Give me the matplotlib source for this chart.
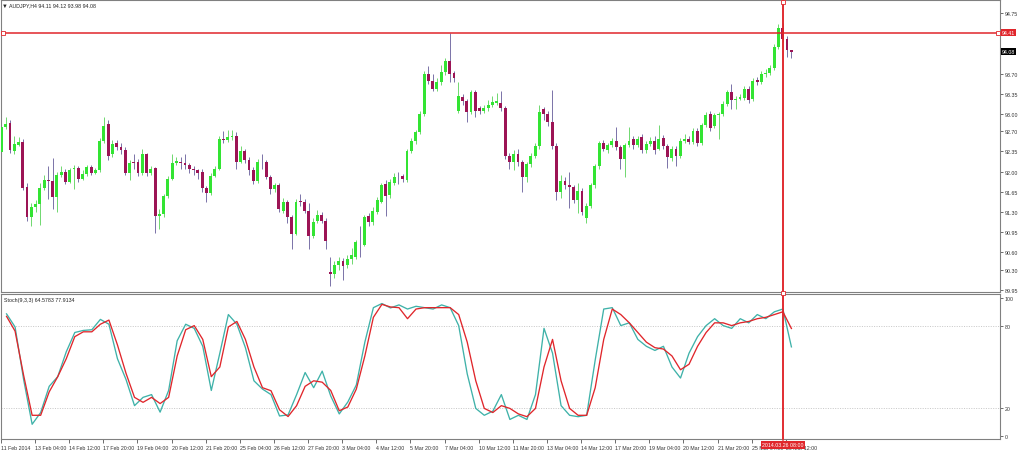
import numpy as np
import matplotlib
matplotlib.use("Agg")
import matplotlib.pyplot as plt
from matplotlib.lines import Line2D

plt.rcParams['font.family'] = ['Liberation Sans', 'DejaVu Sans']

# AUDJPY H4 candles, one row per bar (open, high, low, close)
opens = [
    92.34, 92.78, 92.85, 92.36, 92.47, 92.52, 91.74, 91.21, 91.38, 91.43,
    91.72, 91.86, 91.84, 91.56, 91.94, 92.00, 91.82, 92.04, 92.06, 91.88,
    91.96, 92.08, 91.98, 92.03, 92.53, 92.82, 92.30, 92.50, 92.43, 92.38,
    91.98, 92.16, 92.16, 91.97, 92.30, 91.97, 92.06, 91.23, 91.27, 91.58,
    91.87, 92.15, 92.17, 92.15, 92.11, 92.05, 92.02, 92.00, 91.72, 91.63,
    91.92, 92.05, 92.57, 92.55, 92.60, 92.62, 92.17, 92.36, 92.20, 92.02,
    91.84, 92.17, 92.16, 91.91, 91.70, 91.76, 91.32, 91.47, 91.22, 90.92,
    91.48, 91.47, 91.32, 90.89, 91.15, 91.24, 91.15, 90.25, 90.23, 90.37,
    90.45, 90.38, 90.48, 90.52, 90.78, 90.72, 91.23, 91.12, 91.30, 91.48,
    91.78, 91.60, 91.80, 91.91, 91.92, 91.86, 92.36, 92.53, 92.69, 93.00,
    93.70, 93.58, 93.44, 93.55, 93.73, 93.92, 93.72, 93.06, 93.30, 93.22,
    93.04, 93.38, 93.10, 93.05, 93.10, 93.16, 93.20, 93.20, 93.10, 92.28,
    92.17, 92.31, 92.17, 91.91, 92.13, 92.28, 92.45, 93.08, 93.00, 92.86,
    92.45, 91.64, 91.84, 91.76, 91.73, 91.50, 91.67, 91.20, 91.40, 91.76,
    92.10, 92.49, 92.37, 92.46, 92.54, 92.42, 92.22, 92.46, 92.56, 92.46,
    92.60, 92.37, 92.48, 92.54, 92.40, 92.58, 92.44, 92.23, 92.39, 92.28,
    92.54, 92.57, 92.52, 92.70, 92.50, 92.81, 93.00, 92.80, 92.99, 93.00,
    93.18, 93.38, 93.24, 93.27, 93.28, 93.44, 93.26, 93.60, 93.55, 93.70,
    93.71, 93.80, 94.17, 94.50, 94.30, 94.11,
]
highs = [
    92.92, 92.95, 92.90, 92.62, 92.60, 92.56, 91.80, 91.45, 91.50, 91.80,
    91.95, 92.10, 92.24, 92.00, 92.10, 92.05, 92.06, 92.12, 92.10, 92.02,
    92.12, 92.12, 92.06, 92.58, 92.95, 92.90, 92.55, 92.55, 92.50, 92.42,
    92.20, 92.30, 92.22, 92.40, 92.32, 92.10, 92.08, 91.35, 91.62, 91.92,
    92.30, 92.25, 92.25, 92.30, 92.15, 92.10, 92.05, 92.05, 91.75, 91.98,
    92.10, 92.62, 92.70, 92.72, 92.72, 92.68, 92.45, 92.40, 92.25, 92.08,
    92.22, 92.31, 92.20, 91.95, 91.80, 91.80, 91.55, 91.50, 91.25, 91.53,
    91.62, 91.52, 91.45, 91.20, 91.33, 91.30, 91.20, 90.52, 90.45, 90.52,
    90.50, 90.55, 90.68, 90.82, 91.06, 91.25, 91.28, 91.38, 91.56, 91.80,
    91.85, 91.88, 91.97, 92.00, 91.96, 92.40, 92.58, 92.73, 93.05, 93.74,
    93.84, 93.70, 93.62, 93.86, 93.98, 94.41, 93.75, 93.55, 93.35, 93.27,
    93.42, 93.42, 93.14, 93.16, 93.25, 93.32, 93.37, 93.40, 93.14, 92.32,
    92.38, 92.40, 92.20, 92.17, 92.32, 92.50, 93.15, 93.12, 93.05, 93.41,
    92.50, 91.95, 91.90, 91.99, 91.76, 91.80, 91.72, 91.45, 91.80, 92.14,
    92.53, 92.55, 92.50, 92.58, 92.77, 92.46, 92.50, 92.77, 92.62, 92.62,
    92.66, 92.54, 92.60, 92.62, 92.81, 92.64, 92.48, 92.45, 92.44, 92.58,
    92.65, 92.62, 92.75, 92.75, 92.85, 93.04, 93.06, 93.02, 93.04, 93.22,
    93.42, 93.53, 93.32, 93.35, 93.48, 93.48, 93.62, 93.65, 93.75, 93.78,
    93.85, 94.22, 94.56, 94.58, 94.35, 94.12,
]
lows = [
    92.22, 92.74, 92.33, 92.30, 92.44, 91.68, 91.15, 91.05, 91.30, 91.08,
    91.68, 91.53, 91.35, 91.30, 91.90, 91.78, 91.80, 91.70, 91.82, 91.86,
    91.93, 91.95, 91.96, 92.00, 92.50, 92.20, 92.26, 92.38, 92.30, 91.95,
    91.85, 92.05, 91.92, 91.95, 91.93, 91.95, 90.93, 91.00, 91.22, 91.55,
    91.85, 92.12, 92.05, 92.05, 91.98, 91.95, 91.88, 91.65, 91.48, 91.60,
    91.90, 92.02, 92.50, 92.52, 92.55, 92.05, 92.15, 92.15, 91.95, 91.78,
    91.80, 92.05, 91.88, 91.62, 91.65, 91.30, 91.28, 91.10, 90.66, 90.90,
    91.40, 91.28, 90.65, 90.85, 91.10, 91.10, 90.65, 90.02, 90.15, 90.30,
    90.12, 90.33, 90.40, 90.48, 90.52, 90.70, 91.05, 91.08, 91.26, 91.45,
    91.23, 91.55, 91.76, 91.78, 91.82, 91.82, 92.32, 92.48, 92.65, 92.97,
    93.52, 93.40, 93.40, 93.50, 93.68, 93.56, 93.55, 93.02, 93.15, 92.86,
    93.00, 92.95, 93.00, 93.02, 93.06, 93.12, 93.15, 93.05, 92.22, 92.05,
    92.02, 92.10, 91.65, 91.82, 92.08, 92.24, 92.40, 92.90, 92.80, 92.40,
    91.50, 91.55, 91.70, 91.36, 91.45, 91.28, 91.25, 91.10, 91.36, 91.72,
    92.05, 92.36, 92.33, 92.42, 92.38, 92.05, 91.90, 92.42, 92.40, 92.42,
    92.32, 92.33, 92.44, 92.30, 92.38, 92.40, 92.07, 92.18, 92.10, 92.24,
    92.50, 92.48, 92.48, 92.45, 92.46, 92.77, 92.70, 92.76, 92.57, 92.96,
    93.14, 93.09, 93.09, 93.24, 93.24, 93.20, 93.22, 93.50, 93.52, 93.64,
    93.67, 93.76, 94.13, 94.25, 93.99, 93.98,
]
closes = [
    92.78, 92.83, 92.38, 92.48, 92.52, 91.72, 91.21, 91.38, 91.43, 91.72,
    91.86, 91.84, 91.56, 91.94, 92.00, 91.82, 92.02, 92.06, 91.88, 91.96,
    92.08, 91.98, 92.03, 92.53, 92.79, 92.28, 92.48, 92.43, 92.38, 91.98,
    92.15, 92.15, 91.98, 92.30, 91.97, 92.05, 91.23, 91.27, 91.58, 91.87,
    92.15, 92.18, 92.15, 92.11, 92.05, 92.02, 91.97, 91.72, 91.63, 91.92,
    92.05, 92.57, 92.55, 92.60, 92.62, 92.17, 92.36, 92.20, 92.02, 91.84,
    92.17, 92.16, 91.91, 91.70, 91.76, 91.35, 91.47, 91.22, 90.92, 91.48,
    91.47, 91.32, 90.89, 91.13, 91.24, 91.15, 90.80, 90.23, 90.37, 90.45,
    90.36, 90.48, 90.55, 90.78, 90.77, 91.21, 91.12, 91.32, 91.50, 91.76,
    91.58, 91.82, 91.91, 91.90, 91.88, 92.36, 92.53, 92.69, 93.00, 93.70,
    93.58, 93.44, 93.56, 93.73, 93.92, 93.70, 93.63, 93.31, 93.22, 93.04,
    93.38, 93.06, 93.05, 93.10, 93.16, 93.21, 93.22, 93.10, 92.28, 92.17,
    92.31, 92.17, 91.91, 92.13, 92.28, 92.45, 93.04, 93.00, 92.86, 92.45,
    91.64, 91.84, 91.76, 91.73, 91.50, 91.67, 91.30, 91.40, 91.76, 92.10,
    92.49, 92.40, 92.46, 92.54, 92.42, 92.22, 92.46, 92.54, 92.46, 92.57,
    92.37, 92.48, 92.54, 92.37, 92.57, 92.44, 92.25, 92.39, 92.28, 92.54,
    92.57, 92.52, 92.70, 92.50, 92.81, 92.99, 92.75, 92.99, 93.00, 93.18,
    93.38, 93.24, 93.27, 93.30, 93.44, 93.24, 93.58, 93.55, 93.70, 93.71,
    93.80, 94.17, 94.50, 94.30, 94.11, 94.08,
]

# Stochastic(9,3,3), read on every second bar (bars 1, 3, ..., 185)
stoch_main = [
    88.5, 79, 41, 8.5, 17, 36, 43, 61, 75, 76.5,
    77, 84.5, 81, 56, 41, 22, 28, 30, 17.3, 33,
    69, 81, 78, 65, 33, 60, 88, 81, 64, 40,
    34, 30, 14.5, 15.3, 30, 46, 35, 47, 29, 16,
    24.6, 37, 68, 93, 96, 92.8, 95,
    92, 94, 93, 92, 95, 93, 80, 45, 20, 15,
    18, 30, 12, 15, 12, 30, 78, 60, 22, 15,
    14, 15, 55, 92, 93, 80, 82, 70, 65, 62,
    65, 50, 42, 60, 72, 80, 85, 80, 78, 85,
    82, 88, 85, 90, 92, 64.58,
]
stoch_signal = [
    86.7, 76, 44, 15, 15, 32, 43, 56, 72, 75.5,
    75.5, 81, 84, 66, 45.5, 28, 24.4, 28, 23.5, 28,
    58, 77, 80, 70, 43, 50, 79, 83, 70, 50,
    35, 32.8, 19, 14.1, 22, 36, 40, 39, 33, 18.3,
    21, 34, 58, 86, 95.4, 93.5, 93,
    85, 92, 93, 93, 93, 93, 88, 68, 40, 20,
    17, 22, 20, 16, 14, 20, 50, 70, 40, 20,
    15, 15, 35, 70, 92, 88, 82, 75, 68, 64,
    63, 58, 48, 52, 65, 75, 82, 82, 80, 82,
    83, 85, 86, 88, 90, 77.91,
]

time_labels = [
    "11 Feb 2014", "13 Feb 04:00", "14 Feb 12:00", "17 Feb 20:00", "19 Feb 04:00",
    "20 Feb 12:00", "21 Feb 20:00", "25 Feb 04:00", "26 Feb 12:00", "27 Feb 20:00",
    "3 Mar 04:00", "4 Mar 12:00", "5 Mar 20:00", "7 Mar 04:00", "10 Mar 12:00",
    "11 Mar 20:00", "13 Mar 04:00", "14 Mar 12:00", "17 Mar 20:00", "19 Mar 04:00",
    "20 Mar 12:00", "21 Mar 20:00", "25 Mar 04:00", "26 Mar 12:00",
]
price_ticks = [94.75, 93.70, 93.35, 93.00, 92.70, 92.35, 92.00, 91.65,
               91.30, 90.95, 90.60, 90.30, 89.95]
stoch_ticks = [100, 80, 20, 0]

line_price = 94.41
cursor_bar = 183
cursor_label = "2014.03.26 08:00"
header = "AUDJPY,H4 94.11 94.12 93.98 94.08"
stoch_header = "Stoch(9,3,3) 64.5783 77.9134"

W, H = 1024, 452
fig = plt.figure(figsize=(W / 100, H / 100), dpi=100, facecolor='white')


def px_axes(x0, y0, x1, y1):
    return fig.add_axes([x0 / W, 1 - y1 / H, (x1 - x0) / W, (y1 - y0) / H])


GREEN = '#33e433'
MAROON = '#9c1455'
RED = '#e0262b'
TEAL = '#3fb2a9'
GRID = '#b4b4b4'
FRAME = '#808080'
FS = 3.8

ax = px_axes(1, 1, 1000, 293)
ax2 = px_axes(1, 295, 1000, 440)

o = np.array(opens)
hi = np.array(highs)
lo = np.array(lows)
c = np.array(closes)
bars = np.arange(len(c))
up = c >= o

wick_cols = np.where(up, '#6fd86f', '#7a72a8')
ax.vlines(bars, lo, hi, colors=wick_cols, lw=0.7, zorder=2)
ax.bar(bars, np.maximum(np.abs(c - o), 0.012), bottom=np.minimum(o, c), width=0.68,
       color=np.where(up, GREEN, MAROON), lw=0, zorder=3)

xlim = (-0.1, 233.9)
ax.set_xlim(*xlim)
ax.set_ylim(94.998 - 293 * 0.017366, 94.998 - 1 * 0.017366)

ax.axhline(line_price, color=RED, lw=1.1, zorder=4)
ax.plot([0.4, 233.5], [line_price, line_price], ls='none', marker='s', ms=2.2,
        mfc='white', mec=RED, mew=0.6, zorder=5, clip_on=False)

ax.yaxis.tick_right()
ax.set_yticks(price_ticks)
ax.set_yticklabels([f"{v:.2f}" for v in price_ticks])
ax.tick_params(axis='y', length=2, width=0.5, pad=1.5, labelsize=FS, colors='#333333')
ax.set_xticks([])

# stochastic panel
sbars = np.arange(1, len(c) + 1, 2)
ax2.plot(sbars, stoch_main, color=TEAL, lw=0.95, zorder=3)
ax2.plot(sbars, stoch_signal, color=RED, lw=0.95, zorder=4)
for lvl in (80, 20):
    ax2.axhline(lvl, color=GRID, lw=0.5, ls=(0, (1.5, 2)), zorder=1)
ax2.set_xlim(*xlim)
ax2.set_ylim((437 - 440) / 1.38, (437 - 295) / 1.38)
ax2.yaxis.tick_right()
ax2.set_yticks(stoch_ticks)
ax2.set_yticklabels([str(v) for v in stoch_ticks])
ax2.tick_params(axis='y', length=2, width=0.5, pad=1.5, labelsize=FS, colors='#333333')

ax2.set_xticks(np.arange(len(time_labels)) * 8 - 0.3)
ax2.set_xticklabels(time_labels)
ax2.tick_params(axis='x', length=3, width=0.5, pad=1.2, labelsize=FS, colors='#333333')
for t in ax2.get_xticklabels():
    t.set_horizontalalignment('left')

for a in (ax, ax2):
    for s in a.spines.values():
        s.set_color(FRAME)
        s.set_linewidth(0.8)
    a.axvline(cursor_bar, color=RED, lw=1.1, zorder=6)

# cursor line across panel gap and marks
cx = 1 + (cursor_bar - xlim[0]) / (xlim[1] - xlim[0]) * 999
fig.add_artist(Line2D([cx / W, cx / W], [1 - 441 / H, 1.0], color=RED, lw=1.1,
                      transform=fig.transFigure))
for yy in (2.5, 294):
    fig.add_artist(Line2D([cx / W], [1 - yy / H], marker='s', ms=2.2, mfc='white',
                          mec=RED, mew=0.6, transform=fig.transFigure))

fig.text(cx / W, 1 - 446 / H, cursor_label, color='white', fontsize=FS, ha='center',
         va='center', zorder=10,
         bbox=dict(boxstyle='square,pad=0.25', fc=RED, ec='none'))


def price_y(p):
    return 1 - ((94.998 - p) / 0.017366) / H


fig.text(1002 / W, price_y(line_price), f"{line_price:.2f}", color='white', fontsize=FS,
         va='center', ha='left', zorder=10,
         bbox=dict(boxstyle='square,pad=0.2', fc=RED, ec='none'))
fig.text(1002 / W, price_y(closes[-1]), f"{closes[-1]:.2f}", color='white', fontsize=FS,
         va='center', ha='left', zorder=10,
         bbox=dict(boxstyle='square,pad=0.2', fc='black', ec='none'))

fig.text(2 / W, 1 - 6 / H, "\u25bc", fontsize=4.2, va='center', ha='left', color='#222222')
fig.text(9 / W, 1 - 6 / H, header, fontsize=FS, va='center', ha='left', color='#222222')
fig.text(4 / W, 1 - 301 / H, stoch_header, fontsize=FS, va='center', ha='left',
         color='#222222')

fig.savefig('out.png', dpi=100, facecolor='white')
